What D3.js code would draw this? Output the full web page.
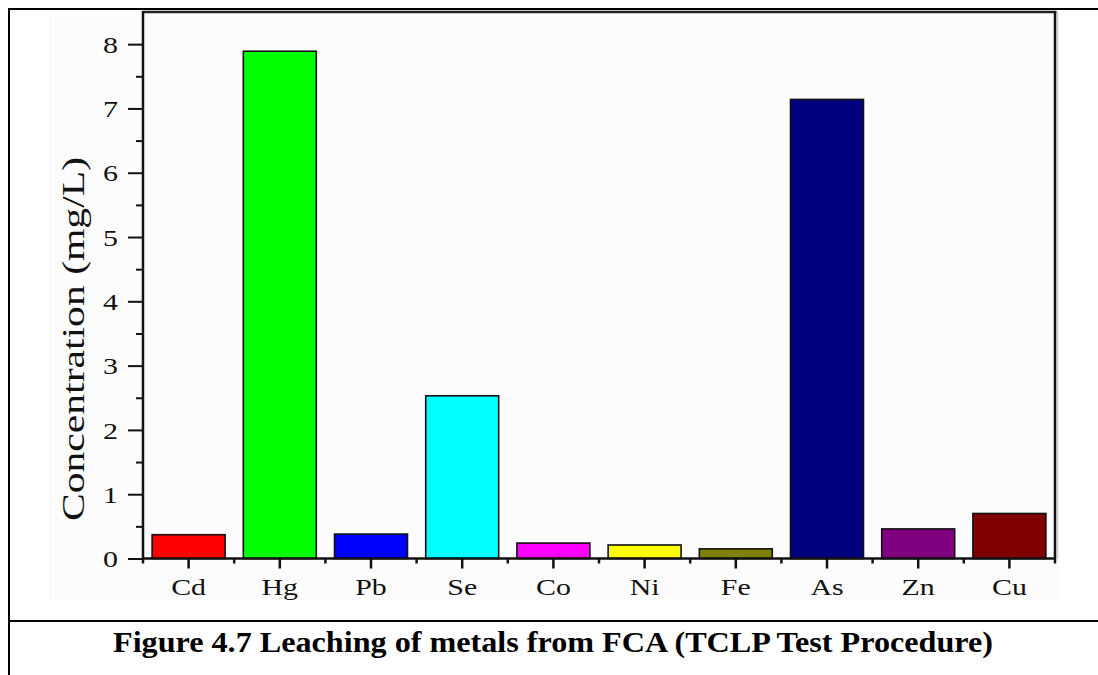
<!DOCTYPE html>
<html>
<head>
<meta charset="utf-8">
<script src="https://cdn.jsdelivr.net/npm/d3@7"></script>
<style>
  html, body { margin: 0; padding: 0; background: #fff; }
  svg { display: block; }
  svg text { font-family: "Liberation Serif", "Times New Roman", Times, serif; fill: #000; }
</style>
</head>
<body>
<svg id="chart" width="1098" height="675"></svg>
<script>
// Leached metal concentrations (mg/L), TCLP test on FCA
const metals = ["Cd", "Hg", "Pb", "Se", "Co", "Ni", "Fe", "As", "Zn", "Cu"];
const concentrations = [0.37, 7.89, 0.38, 2.53, 0.24, 0.21, 0.15, 7.14, 0.46, 0.70];
const barColors = ["#ff0000", "#00ff00", "#0000ff", "#00ffff", "#ff00ff",
                   "#ffff00", "#808000", "#000080", "#800080", "#800000"];
const yTickValues = [0, 1, 2, 3, 4, 5, 6, 7, 8];
const yLabel = "Concentration (mg/L)";
const caption = "Figure 4.7 Leaching of metals from FCA (TCLP Test Procedure)";

const svg = d3.select("#chart");

// Document table frame around the figure
svg.append("line").attr("x1", 8).attr("x2", 1098).attr("y1", 9).attr("y2", 9)
  .attr("stroke", "#000").attr("stroke-width", 2);
svg.append("line").attr("x1", 9).attr("x2", 9).attr("y1", 8).attr("y2", 675)
  .attr("stroke", "#000").attr("stroke-width", 2);
svg.append("line").attr("x1", 8).attr("x2", 1098).attr("y1", 621).attr("y2", 621)
  .attr("stroke", "#000").attr("stroke-width", 2);

// Embedded chart image area
svg.append("rect").attr("x", 49).attr("y", 10).attr("width", 1009).attr("height", 590)
  .attr("fill", "#fcfcfc");

const plot = { left: 143, right: 1055, top: 12, bottom: 558.5 };

const x = d3.scaleBand().domain(metals)
  .range([plot.left, plot.right]).paddingInner(0.2).paddingOuter(0.1);
const xCat = d3.scaleBand().domain(metals).range([plot.left, plot.right]);
const y = d3.scaleLinear().domain([0, 8.5]).range([plot.bottom, plot.top]);

// Plot frame (top and right)
svg.append("line").attr("x1", plot.left).attr("x2", plot.right + 1.5)
  .attr("y1", plot.top).attr("y2", plot.top)
  .attr("stroke", "#222").attr("stroke-width", 2.5);
svg.append("line").attr("x1", plot.right + 2.5).attr("x2", plot.right + 2.5)
  .attr("y1", plot.top).attr("y2", plot.bottom)
  .attr("stroke", "#ccc").attr("stroke-width", 1.5);
svg.append("line").attr("x1", plot.right).attr("x2", plot.right)
  .attr("y1", plot.top).attr("y2", plot.bottom)
  .attr("stroke", "#111").attr("stroke-width", 2.5);

// Bars
svg.append("g").selectAll("rect").data(metals).join("rect")
  .attr("x", d => x(d))
  .attr("y", (d, i) => y(concentrations[i]))
  .attr("width", x.bandwidth())
  .attr("height", (d, i) => y(0) - y(concentrations[i]))
  .attr("fill", (d, i) => barColors[i])
  .attr("stroke", "#111").attr("stroke-width", 1.6);

// Y axis: major ticks with labels, minor ticks at half units
const yAxis = svg.append("g").attr("transform", `translate(${plot.left},0)`);
yAxis.call(d3.axisLeft(y).tickValues(yTickValues).tickSize(15).tickFormat(""))
  .call(g => g.select(".domain").remove())
  .call(g => g.selectAll(".tick line").attr("stroke", "#111").attr("stroke-width", 2));
yAxis.selectAll(".tick")
  .append("text")
  .attr("transform", "translate(-25,0) scale(1.25,1)")
  .attr("text-anchor", "end").attr("dy", "0.34em")
  .style("font-size", "24px").style("fill", "#111")
  .text(d => d3.format("d")(d));
yAxis.append("g").call(d3.axisLeft(y).tickValues(d3.range(0.5, 8, 1)).tickSize(7).tickFormat(""))
  .call(g => g.select(".domain").remove())
  .call(g => g.selectAll(".tick line").attr("stroke", "#111").attr("stroke-width", 2));
svg.append("line").attr("x1", plot.left).attr("x2", plot.left)
  .attr("y1", plot.top - 1).attr("y2", plot.bottom + 1)
  .attr("stroke", "#111").attr("stroke-width", 2.5);

// X axis: major ticks at categories, minor ticks at boundaries
const xAxis = svg.append("g").attr("transform", `translate(0,${plot.bottom})`);
xAxis.call(d3.axisBottom(xCat).tickSize(10).tickFormat(""))
  .call(g => g.select(".domain").remove())
  .call(g => g.selectAll(".tick line").attr("stroke", "#111").attr("stroke-width", 2.5));
const boundaries = metals.map(m => xCat(m)).concat([plot.right]);
xAxis.selectAll("line.minor").data(boundaries).join("line").attr("class", "minor")
  .attr("x1", d => d).attr("x2", d => d).attr("y1", 0).attr("y2", 5)
  .attr("stroke", "#111").attr("stroke-width", 2.5);
xAxis.append("line").attr("x1", plot.left - 1).attr("x2", plot.right + 1)
  .attr("y1", 0).attr("y2", 0).attr("stroke", "#111").attr("stroke-width", 2.5);
xAxis.selectAll("text.cat").data(metals).join("text").attr("class", "cat")
  .attr("transform", d => `translate(${xCat(d) + xCat.bandwidth() / 2},36) scale(1.3,1)`)
  .attr("text-anchor", "middle").style("font-size", "23px").style("fill", "#111")
  .text(d => d);

// Y axis title
svg.append("text")
  .attr("transform", `translate(84,${(157 + 521) / 2}) rotate(-90)`)
  .attr("text-anchor", "middle")
  .style("font-size", "32px").style("fill", "#111")
  .attr("textLength", 364).attr("lengthAdjust", "spacingAndGlyphs")
  .text(yLabel);

// Figure caption
svg.append("text")
  .attr("x", 553).attr("y", 652)
  .attr("text-anchor", "middle")
  .style("font-size", "30px").style("font-weight", "bold")
  .attr("textLength", 880).attr("lengthAdjust", "spacingAndGlyphs")
  .text(caption);
</script>
</body>
</html>
